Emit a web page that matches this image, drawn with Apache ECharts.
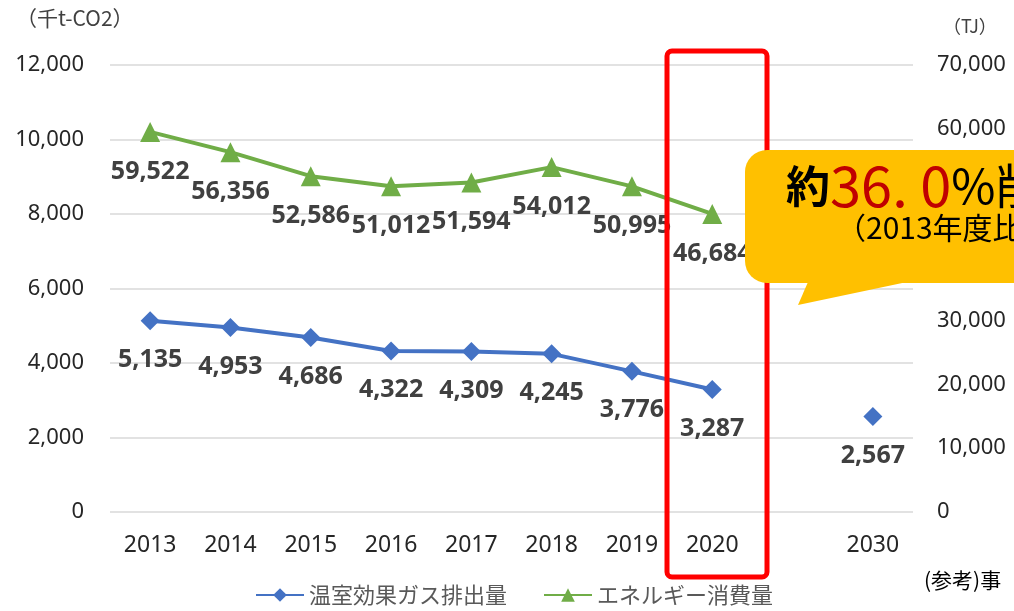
<!DOCTYPE html>
<html>
<head>
<meta charset="utf-8">
<script src="https://cdn.jsdelivr.net/npm/echarts@6/dist/echarts.min.js"></script>
<style>
  html, body { margin: 0; padding: 0; background: #fff; }
  #chart { width: 1014px; height: 611px; }
</style>
</head>
<body>
<div id="chart"></div>
<script>
// 年度（2020と2030の間は空き）
const years = ['2013', '2014', '2015', '2016', '2017', '2018', '2019', '2020', '', '2030']
// 温室効果ガス排出量（千t-CO2）
const ghgValues = [5135, 4953, 4686, 4322, 4309, 4245, 3776, 3287, null, 2567]
// エネルギー消費量（TJ）
const energyValues = [59522, 56356, 52586, 51012, 51594, 54012, 50995, 46684, null, null]
const leftTicks = [0, 12000, 2000]
const rightTicks = [0, 70000, 10000]

const numFont = '"Noto Sans", "Noto Sans CJK JP", sans-serif'
const jpFont = '"Noto Sans CJK JP", sans-serif'

const chart = echarts.init(document.getElementById('chart'))

function fmt (v) {
    return v.toLocaleString('en-US')
}

const dataLabel = {
    show: true,
    position: 'bottom',
    distance: 17,
    fontSize: 25,
    fontWeight: 'bold',
    color: '#404040',
    fontFamily: numFont,
    formatter: (p) => fmt(p.value)
}

chart.setOption({
    animation: false,
    textStyle: { fontFamily: jpFont },
    grid: { left: 110, right: 101, top: 65, bottom: 99 },
    legend: {
        bottom: 0,
        left: 250,
        itemWidth: 48,
        itemHeight: 17,
        itemGap: 36,
        textStyle: { fontSize: 22, color: '#595959', fontFamily: jpFont },
        data: ['温室効果ガス排出量', 'エネルギー消費量']
    },
    xAxis: {
        type: 'category',
        data: years,
        axisLine: { show: false },
        axisTick: { show: false },
        axisLabel: { fontSize: 23, color: '#262626', margin: 22, fontFamily: numFont }
    },
    yAxis: [{
        type: 'value',
        min: leftTicks[0],
        max: leftTicks[1],
        interval: leftTicks[2],
        name: '（千t-CO2）',
        nameLocation: 'end',
        nameGap: 36,
        nameTextStyle: { fontSize: 21, color: '#404040', align: 'left', padding: [0, 0, 0, -94] },
        axisLabel: { fontSize: 22, color: '#262626', margin: 26, fontFamily: numFont, formatter: fmt },
        splitLine: { lineStyle: { color: '#d9d9d9', width: 1.5 } }
    }, {
        type: 'value',
        min: rightTicks[0],
        max: rightTicks[1],
        interval: rightTicks[2],
        name: '（TJ）',
        nameLocation: 'end',
        nameGap: 30,
        nameTextStyle: { fontSize: 18, color: '#404040', align: 'left', padding: [0, 0, 0, 30] },
        axisLabel: { fontSize: 22, color: '#262626', margin: 24, fontFamily: numFont, formatter: fmt },
        splitLine: { show: false }
    }],
    series: [{
        name: '温室効果ガス排出量',
        type: 'line',
        yAxisIndex: 0,
        data: ghgValues,
        symbol: 'diamond',
        symbolSize: 19,
        connectNulls: false,
        color: '#4472C4',
        lineStyle: { width: 4 },
        label: dataLabel
    }, {
        name: 'エネルギー消費量',
        type: 'line',
        yAxisIndex: 1,
        data: energyValues,
        symbol: 'triangle',
        symbolSize: 20,
        connectNulls: false,
        color: '#70AD47',
        lineStyle: { width: 4 },
        label: dataLabel
    }],
    graphic: [{
        type: 'rect',
        z: 10,
        shape: { x: 667, y: 51, width: 100, height: 526, r: 5 },
        style: { fill: null, stroke: '#FF0000', lineWidth: 5 }
    }, {
        type: 'polygon',
        z: 20,
        shape: { points: [[808, 282], [798, 305], [907, 282]] },
        style: { fill: '#FFC000' }
    }, {
        type: 'rect',
        z: 20,
        shape: { x: 745, y: 150, width: 320, height: 133, r: 22 },
        style: { fill: '#FFC000' }
    }, {
        type: 'text',
        z: 21,
        left: 786,
        top: 158,
        style: {
            text: '{a|約}{b|36. 0}{c|%削減}',
            rich: {
                a: { fontSize: 44, fill: '#000', fontFamily: jpFont, fontWeight: 'bold' },
                b: { fontSize: 56, fill: '#C00000', fontFamily: jpFont },
                c: { fontSize: 48, fill: '#000', fontFamily: jpFont }
            }
        }
    }, {
        type: 'text',
        z: 21,
        left: 836,
        top: 213,
        style: { text: '（2013年度比）', fontSize: 30, fill: '#000', fontFamily: jpFont }
    }, {
        type: 'text',
        left: 924,
        top: 570,
        style: { text: '(参考)事', fontSize: 21, fill: '#000', fontFamily: jpFont }
    }]
})
</script>
</body>
</html>
